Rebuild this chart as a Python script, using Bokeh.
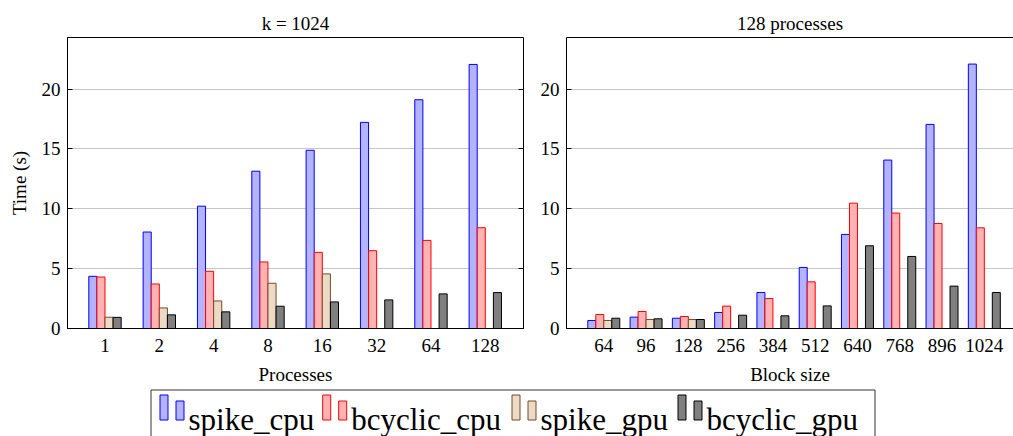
import numpy as np
from bokeh.plotting import figure
from bokeh.models import Range1d, FixedTicker, LinearAxis
from bokeh.layouts import row, column
from bokeh.embed import file_html
from bokeh.resources import INLINE
from bokeh.core.properties import value

# ---------------- data ----------------
series = ["spike_cpu", "bcyclic_cpu", "spike_gpu", "bcyclic_gpu"]

processes = ["1", "2", "4", "8", "16", "32", "64", "128"]
spike_cpu_proc = [4.36, 8.06, 10.22, 13.14, 14.89, 17.22, 19.11, 22.06]
bcyclic_cpu_proc = [4.30, 3.72, 4.78, 5.56, 6.36, 6.50, 7.36, 8.42]
spike_gpu_proc = [0.94, 1.72, 2.30, 3.78, 4.56, None, None, None]
bcyclic_gpu_proc = [0.93, 1.14, 1.39, 1.86, 2.22, 2.39, 2.89, 3.00]

block_sizes = ["64", "96", "128", "256", "384", "512", "640", "768", "896", "1024"]
spike_cpu_block = [0.67, 0.95, 0.86, 1.34, 3.01, 5.10, 7.86, 14.07, 17.05, 22.09]
bcyclic_cpu_block = [1.17, 1.42, 1.00, 1.87, 2.51, 3.90, 10.47, 9.64, 8.77, 8.41]
spike_gpu_block = [0.67, 0.75, 0.75, None, None, None, None, None, None, None]
bcyclic_gpu_block = [0.86, 0.81, 0.75, 1.11, 1.06, 1.89, 6.91, 6.02, 3.54, 3.01]

y_ticks = [0, 5, 10, 15, 20]

# ---------------- style ----------------
line_colors = ["#0000ff", "#ff0000", "#734d26", "#000000"]
fill_colors = ["#b3b3ff", "#ffb3b3", "#ecd9c6", "#808080"]
FONT = "Liberation Serif"
FS = "19px"
Y_MAX = 24.31
PANEL_H = 388
LEG_H = 436 - PANEL_H


def make_panel(cats, values, title, xlabel, width, b_left, b_right, x_start, x_end,
               bar_w, ylabel=None, closed=True):
    p = figure(width=width, height=PANEL_H, output_backend="svg", toolbar_location=None,
               x_range=Range1d(x_start, x_end), y_range=Range1d(0, Y_MAX),
               min_border_left=b_left, min_border_right=b_right,
               min_border_top=37, min_border_bottom=PANEL_H - 328)
    p.background_fill_color = "white"
    p.border_fill_color = "white"
    for k, vals in enumerate(values):
        xs, tops = [], []
        for i, v in enumerate(vals):
            if v is None:
                continue
            xs.append(i + (k - 1.5) * bar_w)
            tops.append(v)
        p.vbar(x=xs, top=tops, bottom=0, width=bar_w, fill_color=fill_colors[k],
               line_color=line_colors[k], line_width=1)

    p.title.text = title
    p.title.align = "center"
    p.title.text_font = FONT
    p.title.text_font_size = FS
    p.title.text_font_style = "normal"
    p.title.text_color = "black"
    p.title.standoff = 8

    p.xgrid.visible = False
    p.ygrid.ticker = FixedTicker(ticks=[5, 10, 15, 20])
    p.ygrid.grid_line_color = "#c6c6c6"
    p.ygrid.grid_line_width = 1

    xa = p.xaxis[0]
    xa.ticker = FixedTicker(ticks=list(range(len(cats))))
    xa.major_label_overrides = {i: c for i, c in enumerate(cats)}
    xa.major_tick_in = 0
    xa.major_tick_out = 0
    xa.minor_tick_line_color = None
    xa.major_label_text_font = FONT
    xa.major_label_text_font_size = FS
    xa.major_label_text_color = "black"
    xa.major_label_standoff = 10
    xa.axis_label = xlabel
    xa.axis_label_text_font = FONT
    xa.axis_label_text_font_size = FS
    xa.axis_label_text_font_style = "normal"
    xa.axis_label_text_color = "black"
    xa.axis_label_standoff = 9
    xa.axis_line_color = "black"

    ya = p.yaxis[0]
    ya.ticker = FixedTicker(ticks=y_ticks)
    ya.major_tick_in = 5
    ya.major_tick_out = 0
    ya.major_tick_line_color = "black"
    ya.minor_tick_line_color = None
    ya.major_label_text_font = FONT
    ya.major_label_text_font_size = FS
    ya.major_label_text_color = "black"
    ya.major_label_standoff = 7
    ya.axis_line_color = "black"
    if ylabel:
        ya.axis_label = ylabel
        ya.axis_label_text_font = FONT
        ya.axis_label_text_font_size = FS
        ya.axis_label_text_font_style = "normal"
        ya.axis_label_text_color = "black"
        ya.axis_label_standoff = 9

    if closed:
        p.outline_line_color = "black"
        p.outline_line_alpha = 1
        ra = LinearAxis(ticker=FixedTicker(ticks=y_ticks), major_tick_in=5, major_tick_out=0,
                        major_label_text_font_size="1px", major_label_text_color=None,
                        major_label_standoff=0,
                        minor_tick_line_color=None, axis_line_color=None,
                        major_tick_line_color="black")
        p.add_layout(ra, "right")
    else:
        p.outline_line_color = None
        ta = LinearAxis(ticker=FixedTicker(ticks=[]), major_tick_in=0, major_tick_out=0,
                        major_label_text_font_size="1px", major_label_text_color=None,
                        major_label_standoff=0,
                        minor_tick_line_color=None, axis_line_color="black")
        p.add_layout(ta, "above")
    return p


p1 = make_panel(processes,
                [spike_cpu_proc, bcyclic_cpu_proc, spike_gpu_proc, bcyclic_gpu_proc],
                "k = 1024", "Processes", 537, 67, 14, -0.690, 7.703, 0.149,
                ylabel="Time (s)", closed=True)
p2 = make_panel(block_sizes,
                [spike_cpu_block, bcyclic_cpu_block, spike_gpu_block, bcyclic_gpu_block],
                "128 processes", "Block size", 476, 29, 0, -0.882, 9.69, 0.189,
                closed=False)

# ---------------- legend (pixel-space figure, y measured from page top) ----------------
p3 = figure(width=1013, height=LEG_H, output_backend="svg", toolbar_location=None,
            x_range=Range1d(0, 1013), y_range=Range1d(436, PANEL_H),
            min_border=0, min_border_left=0, min_border_right=0,
            min_border_top=0, min_border_bottom=0)
p3.axis.visible = False
p3.grid.visible = False
p3.outline_line_color = None
p3.background_fill_color = "white"
p3.border_fill_color = "white"

entry_left = [159, 321.7, 511, 677]
p3.quad(left=[150.5], right=[874.5], top=[389.5], bottom=[460], fill_color=None,
        line_color="#333333", line_width=1)
for k, name in enumerate(series):
    x0 = entry_left[k]
    p3.quad(left=[x0 + 0.5], right=[x0 + 8.5], top=[394.5], bottom=[419.5],
            fill_color=fill_colors[k], line_color=line_colors[k], line_width=1)
    p3.quad(left=[x0 + 16.5], right=[x0 + 24.5], top=[400.5], bottom=[419.5],
            fill_color=fill_colors[k], line_color=line_colors[k], line_width=1)
    p3.text(x=[x0 + 29], y=[419.3], text=[name], text_font=value(FONT),
            text_font_size="31px", text_baseline="alphabetic", text_align="left",
            text_color="black")

layout = column(row(p1, p2), p3)
open("out.html", "w").write(file_html(layout, INLINE))
